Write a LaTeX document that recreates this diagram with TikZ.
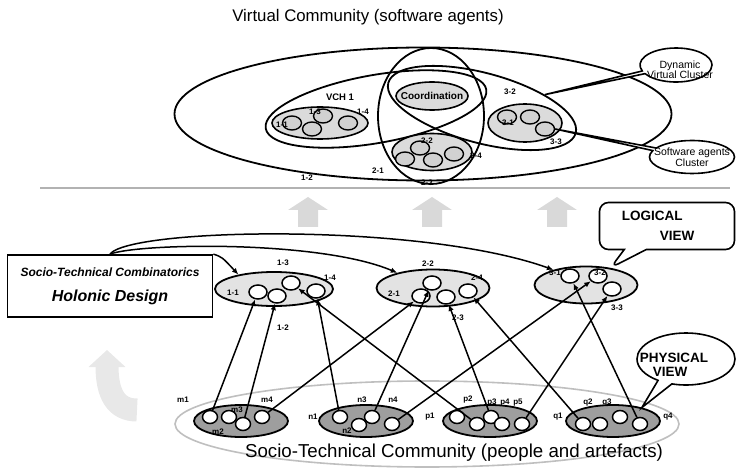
\documentclass[tikz,border=0pt]{standalone}
\usepackage{fontspec}
\setmainfont{Liberation Sans}
\usetikzlibrary{shapes.geometric,shapes.callouts,arrows.meta}
\definecolor{clfill}{gray}{0.86}
\definecolor{agfill}{gray}{0.82}
\definecolor{lgfill}{gray}{0.89}
\definecolor{phfill}{gray}{0.62}
\definecolor{upfill}{gray}{0.85}
\definecolor{curvfill}{gray}{0.91}

\begin{document}
\begin{tikzpicture}[x=1pt,y=-1pt,>={Latex[length=6.5pt,width=5.5pt]},
  big/.style={ellipse,draw,line width=1.8pt,inner sep=0pt},
  agcl/.style={ellipse,draw,line width=1.6pt,fill=clfill,inner sep=0pt},
  ag/.style={ellipse,draw,line width=1.4pt,fill=agfill,minimum width=19pt,minimum height=14pt,inner sep=0pt},
  lgcl/.style={ellipse,draw,line width=1.8pt,fill=lgfill,inner sep=0pt},
  lg/.style={ellipse,draw,line width=1.5pt,fill=white,minimum width=18pt,minimum height=14pt,inner sep=0pt},
  phcl/.style={ellipse,draw,line width=1.8pt,fill=phfill,minimum width=94pt,minimum height=32pt,inner sep=0pt},
  ph/.style={ellipse,draw,line width=1.5pt,fill=white,minimum width=15pt,minimum height=13pt,inner sep=0pt},
  lab/.style={font=\fontsize{8}{9}\selectfont\bfseries,inner sep=0pt},
  link/.style={->,line width=1.5pt},
  call/.style={draw,line width=1.6pt,fill=white,inner sep=0pt}]
\useasboundingbox (0,0) rectangle (737,468);

% virtual community
\node at (368,17) (vtitle) {\fontsize{16.8}{20}\selectfont Virtual Community (software agents)};
\node [big,minimum width=497pt,minimum height=133pt] at (423,114) (vc) {};
\node [big,minimum width=106pt,minimum height=136pt] at (431,116) (vch2) {};
\node [big,minimum width=224pt,minimum height=68pt,rotate=10] at (376,109) (vch1) {};
\node [big,minimum width=194pt,minimum height=70pt,rotate=-15] at (482,108) (vch3) {};
\node [agcl,minimum width=72pt,minimum height=28pt,label={[font=\fontsize{10}{12}\selectfont\bfseries]center:Coordination}] at (432,96) (coord) {};
%
\node [agcl,minimum width=96pt,minimum height=32pt] at (320,123) (cl1) {};
\node [agcl,minimum width=80pt,minimum height=37pt] at (432,152) (cl2) {};
\node [agcl,minimum width=74pt,minimum height=38pt] at (525,123) (cl3) {};
\node [ag] at (292,123) (a11) {};
\node [ag] at (312,129) (a12) {};
\node [ag] at (323,116) (a13) {};
\node [ag] at (348,123) (a14) {};
\node [ag] at (420,148) (a22) {};
\node [ag] at (405,159) (a21) {};
\node [ag] at (433,160) (a23) {};
\node [ag] at (454,154) (a24) {};
\node [ag] at (507,117) (a31) {};
\node [ag] at (530,117) (a32) {};
\node [ag] at (545,129) (a33) {};
%
\node [lab,font=\fontsize{9.5}{10}\selectfont\bfseries] at (340,97) (vch1lab) {VCH 1};
\node [lab] at (282,125) {1-1};
\node [lab] at (315,112) {1-3};
\node [lab] at (363,112) {1-4};
\node [lab] at (307,178) {1-2};
\node [lab] at (378,171) {2-1};
\node [lab] at (427,141) {2-2};
\node [lab] at (476,156) {2-4};
\node [lab] at (427,183) {2-3};
\node [lab] at (508,123) {3-1};
\node [lab] at (510,92) {3-2};
\node [lab] at (556,142) {3-3};
%
\node [ellipse callout,call,minimum width=72pt,minimum height=34pt,callout absolute pointer={(vch3.27)},callout pointer arc=10,
  label={[font=\fontsize{10.5}{10}\selectfont,align=center,xshift=4pt,yshift=-5pt]center:Dynamic\\Virtual Cluster}] at (676,65) (dvc) {};
\node [ellipse callout,call,minimum width=85pt,minimum height=33pt,callout absolute pointer={(a33.east)},callout pointer arc=10,
  label={[font=\fontsize{10.5}{11}\selectfont,align=center]center:Software agents\\Cluster}] at (692,157) (sac) {};

\draw [gray!60,line width=2pt] (40,188) -- (730,188);
\fill [upfill] (298,227) -- (298,210) -- (288,210) -- (308,197) -- (328,210) -- (318,210) -- (318,227) -- cycle;
\fill [upfill] (422,227) -- (422,210) -- (412,210) -- (432,197) -- (452,210) -- (442,210) -- (442,227) -- cycle;
\fill [upfill] (547,227) -- (547,210) -- (537,210) -- (557,197) -- (577,210) -- (567,210) -- (567,227) -- cycle;

% logical view
\node [rectangle,draw,line width=1.8pt,fill=white,minimum width=205pt,minimum height=62pt,align=center,font=\bfseries\itshape] at (110,286) (hd)
  {{\fontsize{12}{14}\selectfont Socio-Technical Combinatorics}\\[13pt]{\fontsize{16}{18}\selectfont Holonic Design}};
\node [lgcl,minimum width=118pt,minimum height=34pt] at (274,289) (l1) {};
\node [lgcl,minimum width=113pt,minimum height=37pt] at (433,288) (l2) {};
\node [lgcl,minimum width=103pt,minimum height=37pt] at (586,285) (l3) {};
\node [lg] at (258,292) (l11) {};
\node [lg] at (277,296) (l12) {};
\node [lg] at (291,283) (l13) {};
\node [lg] at (316,291) (l14) {};
\node [lg] at (432,283) (l22) {};
\node [lg] at (421,296) (l21) {};
\node [lg] at (446,297) (l23) {};
\node [lg] at (468,291) (l24) {};
\node [lg] at (570,276) (l31) {};
\node [lg] at (598,276) (l32) {};
\node [lg] at (612,289) (l33) {};
\node [lab] at (233,293) {1-1};
\node [lab] at (283,263) {1-3};
\node [lab] at (330,278) {1-4};
\node [lab] at (283,328) {1-2};
\node [lab] at (428,264) {2-2};
\node [lab] at (394,294) {2-1};
\node [lab] at (477,278) {2-4};
\node [lab] at (458,318) {2-3};
\node [lab] at (555,273) {3-1};
\node [lab] at (600,273) {3-2};
\node [lab] at (617,308) {3-3};
%
\draw [link] (hd.north) .. controls (130,228) and (420,222) .. (l3.155);
\draw [link] (hd.north) .. controls (140,243) and (320,240) .. (l2.157);
\draw [link] (hd.north east) .. controls (222,257) .. (l1.158);
%
\node [rectangle callout,call,rounded corners=9pt,minimum width=135pt,minimum height=47pt,callout absolute pointer={(l3.35)},callout pointer width=22pt,
  label={[font=\fontsize{13.5}{20}\selectfont\bfseries,align=left,xshift=-9pt]center:LOGICAL\\\hspace*{38pt}VIEW}] at (667,226) (lv) {};

% physical view
\draw [curvfill,line width=23pt,-{Triangle[length=17pt,width=36pt]}] (137,410) .. controls (116,410) and (107,394) .. (107,350);
\node [ellipse,draw=gray!50,line width=1.6pt,minimum width=504pt,minimum height=86pt] at (427,424) (stc) {};
\node [phcl] at (241,421) (grpm) {};
\node [phcl] at (366,421) (grpn) {};
\node [phcl] at (490,421) (grpp) {};
\node [phcl] at (613,421) (grpq) {};
\node [ph] at (210,417) (m1) {};
\node [ph] at (229,417) (m2) {};
\node [ph] at (243,424) (m3) {};
\node [ph] at (262,417) (m4) {};
\node [ph] at (340,417) (n1) {};
\node [ph] at (359,425) (n2) {};
\node [ph] at (372,417) (n3) {};
\node [ph] at (392,424) (n4) {};
\node [ph] at (457,417) (p1) {};
\node [ph] at (477,424) (p2) {};
\node [ph] at (491,417) (p3) {};
\node [ph] at (502,424) (p4) {};
\node [ph] at (522,424) (p5) {};
\node [ph] at (583,424) (q1) {};
\node [ph] at (600,424) (q2) {};
\node [ph] at (620,417) (q3) {};
\node [ph] at (640,424) (q4) {};
\node [lab] at (183,400) {m1};
\node [lab] at (218,432) {m2};
\node [lab] at (237,410) {m3};
\node [lab] at (267,400) {m4};
\node [lab] at (313,417) {n1};
\node [lab] at (347,431) {n2};
\node [lab] at (362,400) {n3};
\node [lab] at (393,400) {n4};
\node [lab] at (430,417) {p1};
\node [lab] at (468,400) {p2};
\node [lab] at (492,403) {p3};
\node [lab] at (505,403) {p4};
\node [lab] at (518,403) {p5};
\node [lab] at (558,417) {q1};
\node [lab] at (588,403) {q2};
\node [lab] at (607,403) {q3};
\node [lab] at (668,417) {q4};
\node at (454,453) (stctext) {\fontsize{18.7}{20}\selectfont Socio-Technical Community (people and artefacts)};
%
\path [link] (m1) edge (l11);
\path [link] (m3) edge (l12);
\path [link] (p2) edge (l13);
\path [link] (n1) edge (l14);
\path [link] (m4) edge (l21);
\path [link] (n3) edge (l22);
\path [link] (p3) edge (l23);
\path [link] (q1) edge (l24);
\path [link] (q4) edge (l31);
\path [link] (n4) edge (l32);
\path [link] (p5) edge (l33);
%
\node [ellipse callout,call,minimum width=98pt,minimum height=52pt,callout absolute pointer={(grpq.25)},callout pointer arc=18,
  label={[font=\fontsize{13.5}{14}\selectfont\bfseries,align=left,xshift=-12pt,yshift=-6pt]center:PHYSICAL\\\hspace*{13pt}VIEW}] at (686,359) (pv) {};

\end{tikzpicture}
\end{document}
